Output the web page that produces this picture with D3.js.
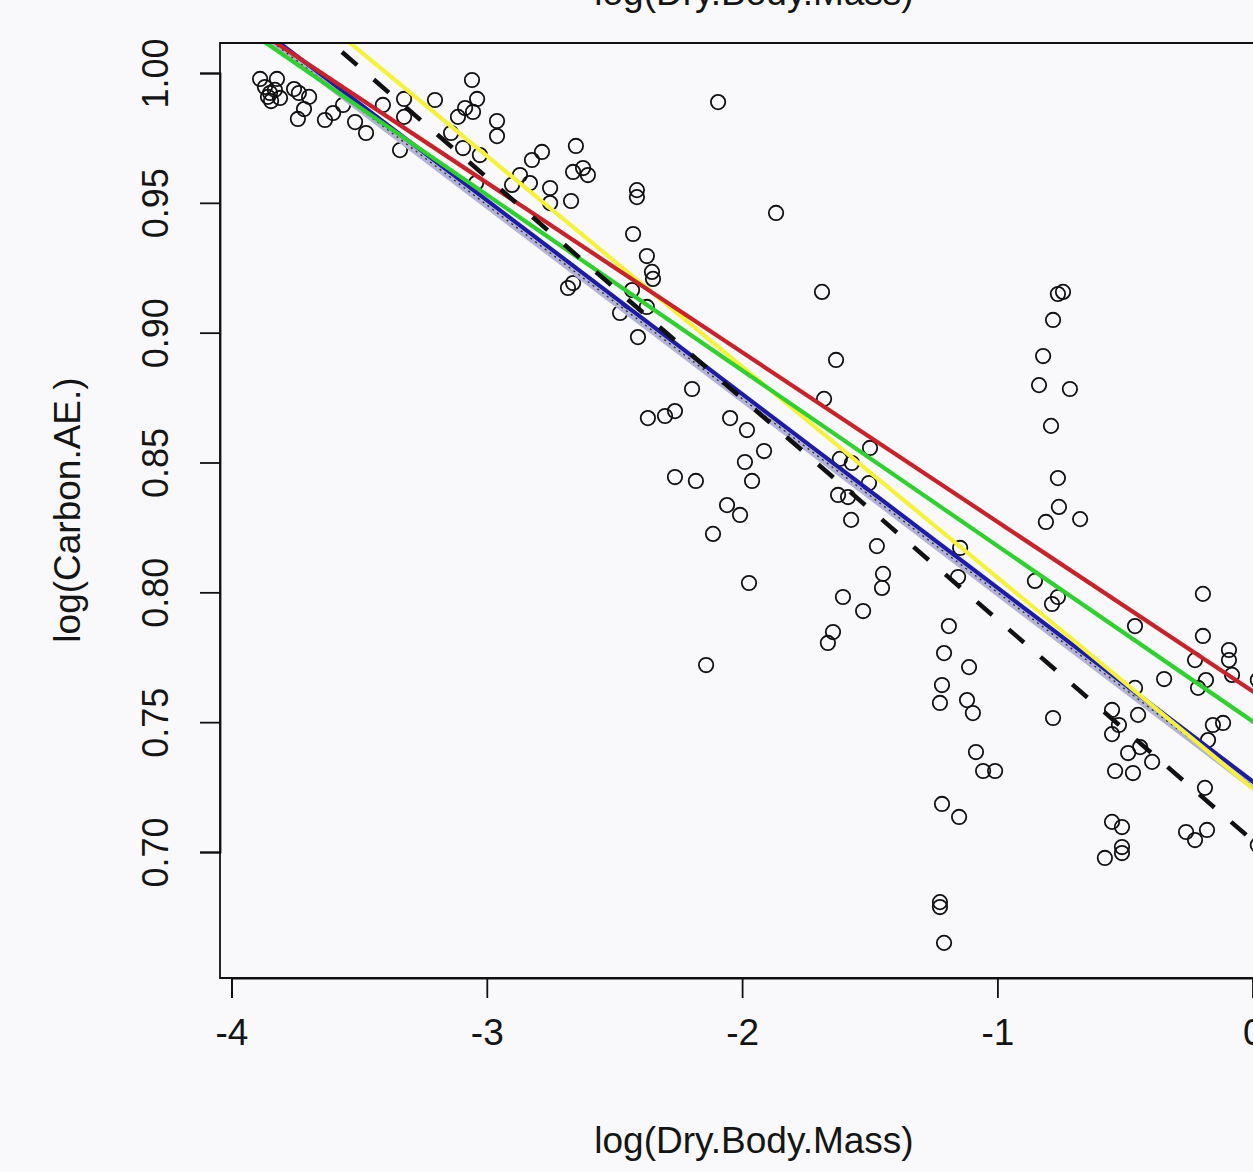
<!DOCTYPE html>
<html>
<head>
<meta charset="utf-8">
<script src="https://cdn.jsdelivr.net/npm/d3@7/dist/d3.min.js"></script>
<style>
  html, body { margin: 0; padding: 0; background: #f9f9fb; }
  svg { display: block; }
  text { font-family: "Liberation Sans", Arial, sans-serif; fill: #151515; }
</style>
</head>
<body>
<svg id="chart" width="1253" height="1172"></svg>
<script>
// ---- data ----
const xLabel = "log(Dry.Body.Mass)";
const yLabel = "log(Carbon.AE.)";
const topLabel = "log(Dry.Body.Mass)";
const xTicks = [-4, -3, -2, -1, 0];
const yTicks = [0.70, 0.75, 0.80, 0.85, 0.90, 0.95, 1.00];

const dryMass = [
  -3.888, -3.822, -3.869, -3.849, -3.845, -3.810, -3.755, -3.736, -3.696, -3.716,
  -3.740, -3.634, -3.602, -3.563, -3.516, -3.473, -3.340, -3.407, -3.324, -3.324,
  -3.203, -3.113, -3.085, -3.058, -3.140, -3.038, -3.054, -2.960, -2.960, -3.093,
  -3.027, -3.042, -2.784, -2.823, -2.651, -2.662, -2.623, -2.604, -2.870, -2.901,
  -2.831, -2.752, -2.752, -2.670, -2.412, -2.412, -2.427, -2.373, -2.353, -2.349,
  -2.431, -2.682, -2.662, -2.478, -2.373, -2.408, -2.196, -2.369, -2.302, -2.263,
  -2.047, -1.981, -1.914, -1.989, -1.961, -2.263, -2.181, -2.059, -2.008, -2.114,
  -1.973, -2.141, -2.094, -1.867, -1.687, -1.632, -1.679, -1.499, -1.617, -1.570,
  -1.503, -1.624, -1.585, -1.573, -1.472, -1.448, -1.452, -1.605, -1.526, -1.644,
  -1.664, -1.146, -1.154, -1.190, -1.209, -1.111, -1.217, -1.225, -1.119, -1.096,
  -1.084, -1.056, -1.009, -1.217, -1.150, -1.225, -1.225, -1.209, -0.763, -0.743,
  -0.782, -0.821, -0.837, -0.716, -0.790, -0.763, -0.759, -0.810, -0.676, -0.853,
  -0.786, -0.763, -0.782, -0.195, -0.195, -0.461, -0.226, -0.093, -0.093, -0.081,
   0.020, -0.347, -0.183, -0.214, -0.461, -0.551, -0.449, -0.524, -0.551, -0.441,
  -0.488, -0.394, -0.539, -0.469, -0.156, -0.116, -0.175, -0.187, -0.551, -0.512,
  -0.512, -0.512, -0.579, -0.261, -0.226, -0.179, 0.020, -3.857, -3.830
];
const carbonAE = [
  0.9977, 0.9977, 0.9946, 0.9923, 0.9892, 0.9904, 0.9938, 0.9923, 0.9908, 0.9861,
  0.9823, 0.9819, 0.9846, 0.9877, 0.9811, 0.9769, 0.9703, 0.9877, 0.9831, 0.9900,
  0.9896, 0.9831, 0.9865, 0.9973, 0.9769, 0.9900, 0.9850, 0.9815, 0.9757, 0.9711,
  0.9684, 0.9576, 0.9696, 0.9665, 0.9719, 0.9619, 0.9634, 0.9607, 0.9607, 0.9569,
  0.9576, 0.9557, 0.9499, 0.9507, 0.9549, 0.9522, 0.9380, 0.9295, 0.9234, 0.9207,
  0.9164, 0.9172, 0.9191, 0.9076, 0.9099, 0.8983, 0.8783, 0.8671, 0.8679, 0.8698,
  0.8671, 0.8625, 0.8544, 0.8502, 0.8429, 0.8444, 0.8429, 0.8336, 0.8298, 0.8225,
  0.8036, 0.7720, 0.9888, 0.9461, 0.9157, 0.8895, 0.8745, 0.8556, 0.8514, 0.8498,
  0.8421, 0.8375, 0.8367, 0.8279, 0.8178, 0.8071, 0.8017, 0.7982, 0.7928, 0.7847,
  0.7805, 0.8171, 0.8059, 0.7870, 0.7766, 0.7712, 0.7643, 0.7574, 0.7585, 0.7535,
  0.7385, 0.7312, 0.7312, 0.7185, 0.7135, 0.6807, 0.6788, 0.6650, 0.9149, 0.9157,
  0.9049, 0.8910, 0.8798, 0.8783, 0.8641, 0.8440, 0.8329, 0.8271, 0.8282, 0.8044,
  0.7955, 0.7982, 0.7516, 0.7994, 0.7832, 0.7870, 0.7739, 0.7778, 0.7739, 0.7682,
  0.7662, 0.7666, 0.7662, 0.7632, 0.7632, 0.7547, 0.7528, 0.7489, 0.7454, 0.7404,
  0.7381, 0.7347, 0.7312, 0.7304, 0.7489, 0.7497, 0.7431, 0.7247, 0.7116, 0.7096,
  0.7019, 0.6996, 0.6977, 0.7077, 0.7046, 0.7085, 0.7027, 0.9908, 0.9935
];

// fitted lines (intercept at x = 0, slope)
const fitNames      = ["lavender", "dotted", "blue", "yellow", "green", "red", "dashed"];
const fitIntercepts = [0.7249, 0.7254, 0.7272, 0.7245, 0.7503, 0.7619, 0.7044];
const fitSlopes     = [-0.0746, -0.0746, -0.0746, -0.0812, -0.0676, -0.06528, -0.08513];

// ---- styles ----
const fitStyle = {
  lavender: { color: "#b3b3d6", width: 5,   dash: null },
  dotted:   { color: "#333333", width: 1.4, dash: "2,4" },
  blue:     { color: "#1c1ca8", width: 4.2, dash: null },
  yellow:   { color: "#f6f23a", width: 4.2, dash: null },
  green:    { color: "#2fd12f", width: 4.2, dash: null },
  red:      { color: "#c8232b", width: 4.2, dash: null },
  dashed:   { color: "#111111", width: 4.5, dash: "20,22" }
};

const svg = d3.select("#chart");
const W = 1253, H = 1172;
svg.append("rect").attr("width", W).attr("height", H).attr("fill", "#f9f9fb");

const x = d3.scaleLinear().domain([-4, 0]).range([231.5, 1252.7]);
const y = d3.scaleLinear().domain([0.70, 1.00]).range([852, 73]);

const box = { left: 220, top: 43, right: 1303, bottom: 978 };

svg.append("defs").append("clipPath").attr("id", "plotclip")
  .append("rect")
  .attr("x", box.left).attr("y", box.top)
  .attr("width", box.right - box.left).attr("height", box.bottom - box.top);

// points
const pts = dryMass.map((d, i) => ({ x: d, y: carbonAE[i] }));
svg.append("g").attr("clip-path", "url(#plotclip)")
  .selectAll("circle").data(pts).join("circle")
  .attr("cx", d => x(d.x)).attr("cy", d => y(d.y))
  .attr("r", 7.2)
  .attr("fill", "none").attr("stroke", "#111").attr("stroke-width", 1.8);

// fitted lines
const xDom = [x.invert(box.left - 5), x.invert(box.right + 5)];
const lg = svg.append("g").attr("clip-path", "url(#plotclip)");
fitNames.forEach((n, i) => {
  const a = fitIntercepts[i], b = fitSlopes[i];
  const st = fitStyle[n];
  lg.append("line")
    .attr("x1", x(xDom[0])).attr("y1", y(a + b * xDom[0]))
    .attr("x2", x(xDom[1])).attr("y2", y(a + b * xDom[1]))
    .attr("stroke", st.color).attr("stroke-width", st.width)
    .attr("stroke-dasharray", st.dash)
    .attr("stroke-linecap", "butt");
});

// box
svg.append("path")
  .attr("d", `M${box.right},${box.top} H${box.left} V${box.bottom} H${box.right}`)
  .attr("fill", "none").attr("stroke", "#111").attr("stroke-width", 1.8);

// x axis
const gx = svg.append("g").attr("transform", `translate(0,${box.bottom})`)
  .call(d3.axisBottom(x).tickValues(xTicks).tickSize(20).tickPadding(21)
    .tickFormat(d => String(d)));
gx.select(".domain").attr("stroke", "#111").attr("stroke-width", 1.8);
gx.selectAll(".tick line").attr("stroke", "#111").attr("stroke-width", 1.8);
gx.selectAll(".tick text").attr("font-size", 37)
  .attr("font-family", "Liberation Sans, Arial, sans-serif").attr("fill", "#151515");

// y axis
const gy = svg.append("g").attr("transform", `translate(${box.left},0)`)
  .call(d3.axisLeft(y).tickValues(yTicks).tickSize(20).tickFormat(d3.format(".2f")));
gy.select(".domain").attr("stroke", "#111").attr("stroke-width", 1.8);
gy.selectAll(".tick line").attr("stroke", "#111").attr("stroke-width", 1.8);
gy.selectAll(".tick text")
  .attr("x", null).attr("dy", null)
  .attr("text-anchor", "middle")
  .attr("transform", "translate(-52,0) rotate(-90)")
  .attr("font-size", 36)
  .attr("font-family", "Liberation Sans, Arial, sans-serif").attr("fill", "#151515");

// axis labels
svg.append("text").attr("x", 754).attr("y", 1153)
  .attr("text-anchor", "middle").attr("font-size", 37).text(xLabel);
svg.append("text").attr("x", 754).attr("y", 5)
  .attr("text-anchor", "middle").attr("font-size", 37).text(topLabel);
svg.append("text")
  .attr("transform", "translate(80,510) rotate(-90)")
  .attr("text-anchor", "middle").attr("font-size", 37).text(yLabel);
</script>
</body>
</html>
